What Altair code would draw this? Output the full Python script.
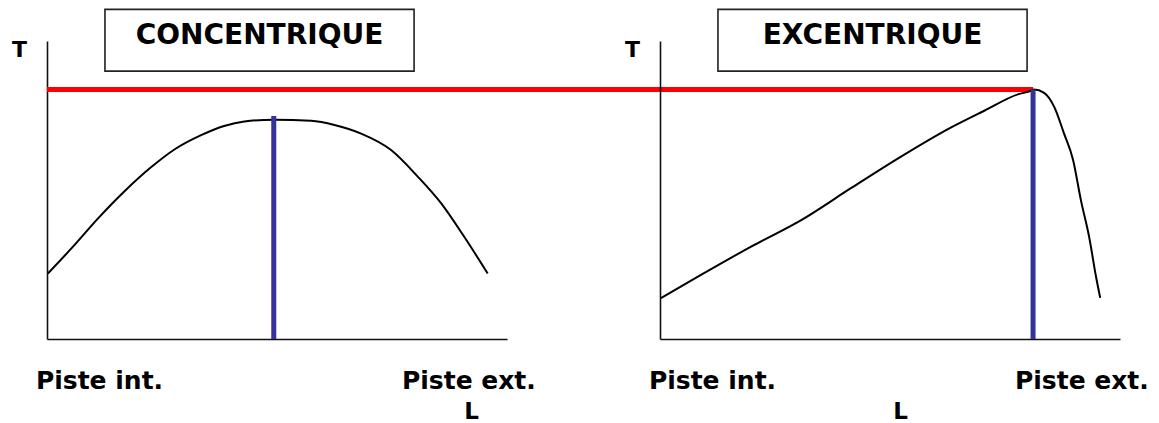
import altair as alt
import pandas as pd

FONT = "DejaVu Sans"

# Concentric contraction: tension T vs length L (track position)
CONC_L = [0.2, 5.9, 11.0, 16.8, 22.6, 27.7, 33.5, 38.5, 42.9, 49.4, 57.4, 62.5, 68.3, 74.8, 80.6, 85.7, 90.7, 95.8]
CONC_T = [22.0, 31.4, 40.3, 49.5, 57.6, 63.6, 68.4, 71.5, 73.0, 73.6, 73.2, 71.8, 68.9, 63.4, 54.5, 45.5, 34.3, 22.0]
CONC_OPT_L = 49.3
CONC_OPT_T = 74.8

# Eccentric contraction
EXC_L = [0.2, 8.9, 19.8, 30.7, 41.5, 52.4, 63.3, 70.5, 77.8, 80.7, 81.3, 83.5, 85.7, 87.8, 89.8, 91.5, 93.3, 94.8, 95.7]
EXC_T = [13.7, 21.5, 31.0, 39.9, 50.6, 61.2, 71.0, 76.6, 82.1, 83.3, 83.7, 82.6, 77.9, 69.1, 60.1, 46.6, 34.2, 20.8, 13.8]
EXC_OPT_L = 81.1
T_MAX = 83.7

TITLES = ["CONCENTRIQUE", "EXCENTRIQUE"]
TICK_LABELS = ["Piste int.", "Piste ext."]
TICK_POS = [11.3, 91.6]

W, H, SPACING = 460, 298, 153

xs = alt.Scale(domain=[0, 100], nice=False, zero=False)
ys = alt.Scale(domain=[0, 100], nice=False, zero=False)


def panel(title, L, T, opt_l, opt_t, l_title_x, red_x, red_x2):
    df = pd.DataFrame({"L": L, "T": T})
    one = pd.DataFrame({"title": [title]})
    label_expr = f"datum.value < 50 ? '{TICK_LABELS[0]}' : '{TICK_LABELS[1]}'"
    curve = alt.Chart(df).mark_line(color="black", strokeWidth=2, interpolate="monotone").encode(
        x=alt.X("L:Q", scale=xs, axis=alt.Axis(
            title="L", values=TICK_POS, labelExpr=label_expr, ticks=False, tickSize=0,
            labelPadding=49, labelBaseline="alphabetic", labelFlush=False, labelOverlap=False,
            labelFontSize=25, labelFontWeight="bold", labelColor="black",
            titleX=l_title_x, titleY=79, titleAlign="center", titleBaseline="alphabetic",
            titleFontSize=23, titleFontWeight="bold", titleColor="black")),
        y=alt.Y("T:Q", scale=ys, axis=alt.Axis(
            title="T", labels=False, ticks=False, tickSize=0, titleAngle=0,
            titleX=-28, titleY=15, titleAlign="center", titleBaseline="alphabetic",
            titleFontSize=22, titleFontWeight="bold", titleColor="black")),
    )
    box = alt.Chart(one).mark_rect(fill="white", stroke="#222222", strokeWidth=1.6).encode(
        x=alt.X(datum=12.6), x2=alt.X2(datum=79.8),
        y=alt.Y(datum=110.6), y2=alt.Y2(datum=89.9),
    )
    text = alt.Chart(one).mark_text(font=FONT, fontSize=28, fontWeight="bold", color="black",
                                    align="center", baseline="alphabetic").encode(
        x=alt.X(datum=46.2), y=alt.Y(datum=98.9), text="title:N",
    )
    red = alt.Chart(one).mark_rule(color="#FF0000", strokeWidth=5).encode(
        x=alt.X(datum=red_x), x2=alt.X2(datum=red_x2), y=alt.Y(datum=T_MAX),
    )
    blue = alt.Chart(one).mark_rule(color="#333399", strokeWidth=5).encode(
        x=alt.X(datum=opt_l), y=alt.Y(datum=0), y2=alt.Y2(datum=opt_t),
    )
    return alt.layer(box, text, curve, blue, red).properties(width=W, height=H)


# red line runs from the left panel's T axis to the eccentric peak
red_end = 100 * (W + SPACING) / W + EXC_OPT_L
left = panel(TITLES[0], CONC_L, CONC_T, CONC_OPT_L, CONC_OPT_T, 424, 0, red_end)
right = panel(TITLES[1], EXC_L, EXC_T, EXC_OPT_L, T_MAX, 240, EXC_OPT_L, EXC_OPT_L)

chart = alt.hconcat(left, right, spacing=SPACING, bounds="flush").properties(
    padding={"left": 3, "top": 0, "right": 0, "bottom": 0}
).configure_view(strokeWidth=0).configure_axis(
    domainColor="#111111", domainWidth=1.6, grid=False,
    labelFont=FONT, titleFont=FONT,
)

chart.save("out.html", embed_options={"renderer": "svg", "actions": False})
